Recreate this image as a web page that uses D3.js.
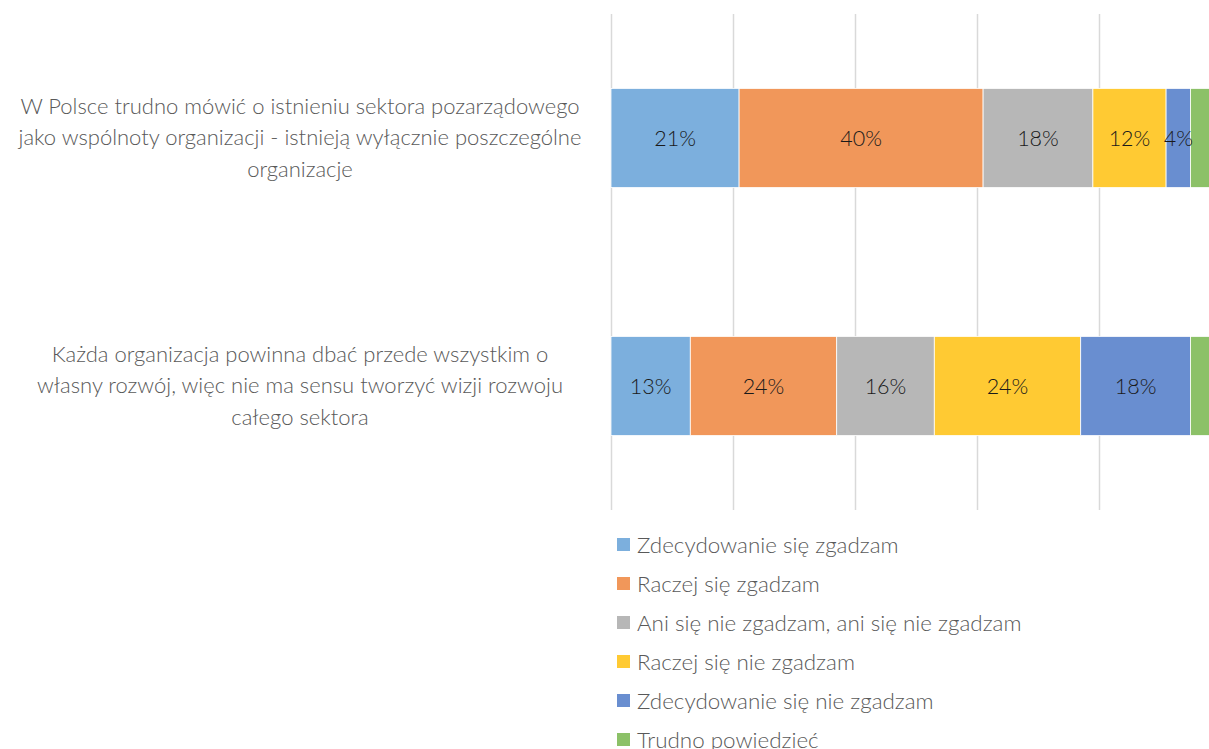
<!DOCTYPE html>
<html>
<head>
<meta charset="utf-8">
<script src="https://cdn.jsdelivr.net/npm/d3@7"></script>
<style>
    body { margin: 0; background: #fff; }
    svg { display: block; font-family: Lato, "Open Sans", sans-serif; font-weight: 300; }
    .grid line { stroke: #d9d9d9; stroke-width: 1.5px; }
    .grid path { stroke-width: 0; }
    .cat { fill: #595959; font-size: 22px; }
    .lbl { fill: #1a1a1a; font-size: 21.5px; }
    .leg { fill: #595959; font-size: 22.4px; }
</style>
</head>
<body>
<svg width="1209" height="749"></svg>
<script>
    // data
    var categories = [
        ["W Polsce trudno mówić o istnieniu sektora pozarządowego",
         "jako wspólnoty organizacji - istnieją wyłącznie poszczególne",
         "organizacje"],
        ["Każda organizacja powinna dbać przede wszystkim o",
         "własny rozwój, więc nie ma sensu tworzyć wizji rozwoju",
         "całego sektora"]
    ];
    var seriesNames = ["Zdecydowanie się zgadzam", "Raczej się zgadzam",
        "Ani się nie zgadzam, ani się nie zgadzam", "Raczej się nie zgadzam",
        "Zdecydowanie się nie zgadzam", "Trudno powiedzieć"];
    var values1 = [21, 40, 18, 12, 4, 5];
    var values2 = [13, 24, 16, 24, 18, 5];
    var showLabel = [true, true, true, true, true, false];
    var colors = ["#7cafdd", "#f1975a", "#b7b7b7", "#ffca33", "#698ed0", "#8cc168"];
    var xTicks = [0, 20, 40, 60, 80, 100];

    var svg = d3.select("svg"),
        margin = { top: 14, left: 611, bottom: 239 },
        plotW = 610,
        plotH = +svg.attr("height") - margin.top - margin.bottom;

    var rows = [values1, values2];

    var x = d3.scaleLinear().domain([0, 100]).range([0, plotW]);
    var y = d3.scaleBand().domain(d3.range(rows.length)).range([0, plotH])
        .paddingInner(0.6).paddingOuter(0.3);

    var g = svg.append("g")
        .attr("transform", "translate(" + margin.left + "," + margin.top + ")");

    // gridlines
    g.append("g")
        .attr("class", "grid")
        .call(d3.axisBottom(x).tickValues(xTicks).tickSize(plotH).tickFormat(""));

    // stack
    var stacked = rows.map(function (vals, i) {
        var acc = 0;
        return vals.map(function (v, j) {
            var d = { row: i, s: j, v: v, x0: acc, x1: acc + v };
            acc += v;
            return d;
        });
    });

    var segs = g.selectAll(".row").data(stacked).enter().append("g").attr("class", "row");

    segs.selectAll("rect")
        .data(function (d) { return d; })
        .enter().append("rect")
        .attr("x", function (d) { return x(d.x0); })
        .attr("y", function (d) { return y(d.row); })
        .attr("width", function (d) { return x(d.x1) - x(d.x0); })
        .attr("height", y.bandwidth())
        .attr("fill", function (d) { return colors[d.s]; })
        .attr("stroke", "#fff")
        .attr("stroke-width", 0.8);

    segs.selectAll("text")
        .data(function (d) { return d.filter(function (e) { return showLabel[e.s]; }); })
        .enter().append("text")
        .attr("class", "lbl")
        .attr("x", function (d) { return x((d.x0 + d.x1) / 2); })
        .attr("y", function (d) { return y(d.row) + y.bandwidth() / 2; })
        .attr("dy", "0.35em")
        .attr("text-anchor", "middle")
        .text(function (d) { return d.v + "%"; });

    // category labels
    categories.forEach(function (lines, i) {
        var cy = margin.top + y(i) + y.bandwidth() / 2;
        var t = svg.append("text")
            .attr("class", "cat")
            .attr("text-anchor", "middle")
            .attr("x", 300)
            .attr("y", cy - 31.5 + 7);
        lines.forEach(function (ln, k) {
            t.append("tspan").attr("x", 300).attr("dy", k === 0 ? 0 : 31.5).text(ln);
        });
    });

    // legend
    var leg = svg.append("g").attr("transform", "translate(617,545)");
    seriesNames.forEach(function (name, i) {
        var r = leg.append("g").attr("transform", "translate(0," + (i * 39) + ")");
        r.append("rect").attr("x", 0).attr("y", -7).attr("width", 13).attr("height", 13)
            .attr("fill", colors[i]);
        r.append("text").attr("class", "leg").attr("x", 20).attr("y", 0).attr("dy", "0.35em")
            .text(name);
    });
</script>
</body>
</html>
